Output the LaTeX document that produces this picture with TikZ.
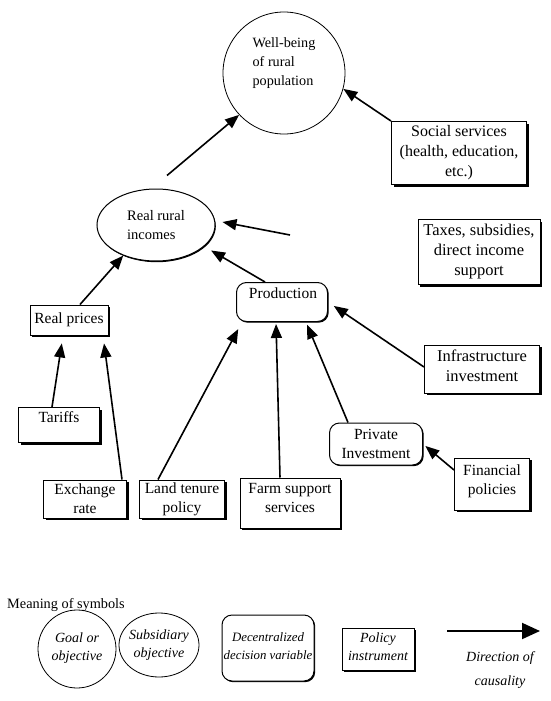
\documentclass[tikz,border=0pt]{standalone}
\usepackage{fontspec}
\setmainfont{Liberation Serif}
\usetikzlibrary{arrows.meta,shapes.geometric,shadows,calc}
\begin{document}
\begin{tikzpicture}[x=1pt,y=-1pt,
  txt/.style={inner sep=0pt, align=center, font=\fontsize{15.5}{19}\selectfont},
  pbox/.style={draw, line width=1pt, fill=white, inner sep=2pt, align=center,
    font=\fontsize{15.5}{19}\selectfont,
    drop shadow={shadow xshift=2pt, shadow yshift=-2pt, fill=black, opacity=1}},
  dvar/.style={draw, line width=1pt, fill=white, rounded corners=10pt, inner sep=2pt, align=center,
    font=\fontsize{15.5}{19}\selectfont,
    drop shadow={shadow xshift=1.2pt, shadow yshift=-1.2pt, fill=black, opacity=1}},
  goal/.style={draw, circle, line width=0.8pt, inner sep=0pt},
  subobj/.style={draw, ellipse, line width=1pt, fill=white, inner sep=0pt, align=left,
    font=\fontsize{14.5}{19}\selectfont,
    drop shadow={shadow xshift=0.8pt, shadow yshift=-1.2pt, fill=black, opacity=1}},
  arr/.style={-{Triangle[length=14pt,width=11pt]}, line width=1.6pt},
  leg/.style={font=\fontsize{14}{18}\itshape\selectfont, align=center, inner sep=0pt}
]
\useasboundingbox (0,0) rectangle (550,701);

% goal
\node[goal, minimum size=122pt] (wb) at (284,73) {};
\node[txt, align=left, font=\fontsize{14.2}{19}\selectfont] (wbT) at (284,63) {Well-being\\of rural\\population};

% subsidiary objective
\node[subobj, minimum width=118pt, minimum height=72pt] (rri) at (156,225) {Real rural\\incomes};

% policy instruments
\node[pbox, minimum width=135pt, minimum height=63pt, font=\fontsize{16}{20}\selectfont] (soc) at (459,153) {Social services\\(health, education,\\etc.)};
\node[pbox, minimum width=122pt, minimum height=65pt, font=\fontsize{16.5}{20}\selectfont] (tax) at (479,252) {Taxes, subsidies,\\direct income\\support};
\node[pbox, minimum width=78pt, minimum height=30pt] (rp) at (69,320) {Real prices};
\node[pbox, minimum width=81pt, minimum height=35pt] (tar) at (59,425) {};
\node[txt] (tarT) at (59,417) {Tariffs};
\node[pbox, minimum width=83pt, minimum height=38pt] (exch) at (85,499) {Exchange\\rate};
\node[pbox, minimum width=85pt, minimum height=38pt] (land) at (182,499) {Land tenure\\policy};
\node[pbox, minimum width=100pt, minimum height=50pt] (farm) at (290,503) {};
\node[txt] (farmT) at (290,498) {Farm support\\services};
\node[pbox, minimum width=115pt, minimum height=48pt] (infra) at (482,369) {};
\node[txt, font=\fontsize{16.5}{20}\selectfont] (infraT) at (482,366) {Infrastructure\\investment};
\node[pbox, minimum width=75pt, minimum height=52pt] (fin) at (492,484) {};
\node[txt] (finT) at (492,481) {Financial\\policies};

% decentralized decision variables
\node[dvar, minimum width=91pt, minimum height=39pt] (prod) at (282,302) {};
\node[txt] (prodT) at (283,293) {Production};
\node[dvar, minimum width=93pt, minimum height=42pt] (priv) at (376,444) {Private\\Investment};

% connectors
\coordinate (rriTop) at ($(rri.north)+(11,-13)$);
\draw[arr] (rriTop) -- (wb.223);
\draw[arr] (soc.north west) -- (wb.-15);
\coordinate (taxFree) at (290,235);
\draw[arr] (taxFree) -- ($(rri.east)+(7,-3)$);
\draw[arr, shorten >=8pt] ($(prod.north)+(-17,0)$) -- (rri.-24);
\draw[arr] ($(rp.north)+(11,0)$) -- (rri.223);
\draw[arr, shorten >=8pt] ($(tar.north)+(-7,0)$) -- ($(rp.south)+(-6,0)$);
\draw[arr, shorten >=8pt] ($(exch.north)+(37,0)$) -- ($(rp.south)+(34,0)$);
\draw[arr, shorten >=8pt] ($(land.north)+(-24,0)$) -- ($(prod.south west)+(6,0)$);
\draw[arr, shorten >=2pt] ($(farm.north)+(-10,0)$) -- ($(prod.south)+(-6,0)$);
\draw[arr, shorten >=3pt] ($(priv.north)+(-28,0)$) -- ($(prod.south)+(24,0)$);
\draw[arr, shorten >=7pt] ($(infra.west)+(0,-2)$) -- (prod.east);
\draw[arr, shorten >=3pt] ($(fin.west)+(0,-14)$) -- (priv.east);

% legend
\node[anchor=west, inner sep=0pt, font=\fontsize{14.3}{17}\selectfont] (mos) at (7,605) {Meaning of symbols};
\node[goal, minimum size=78pt] (lg1) at (77,649) {};
\node[leg] (lg1T) at (77,648) {Goal or\\objective};
\node[draw, ellipse, line width=0.8pt, minimum width=80pt, minimum height=64pt, inner sep=0pt] (lg2) at (159,645) {};
\node[leg] (lg2T) at (159,645) {Subsidiary\\objective};
\node[dvar, minimum width=92pt, minimum height=66pt] (lg3) at (268,648) {};
\node[leg, font=\fontsize{12.8}{18}\itshape\selectfont] (lg3T) at (268,646) {Decentralized\\decision variable};
\node[pbox, minimum width=72pt, minimum height=42pt] (lg4) at (378,649) {};
\node[leg] (lg4T) at (378,647) {Policy\\instrument};
\coordinate (lgA) at (447,631);
\coordinate (lgB) at (540,631);
\draw[-{Triangle[length=18pt,width=16pt]}, line width=2pt] (lgA) -- (lgB);
\node[leg, font=\fontsize{14}{24}\itshape\selectfont] (lgT) at (500,670) {Direction of\\causality};
\end{tikzpicture}
\end{document}
